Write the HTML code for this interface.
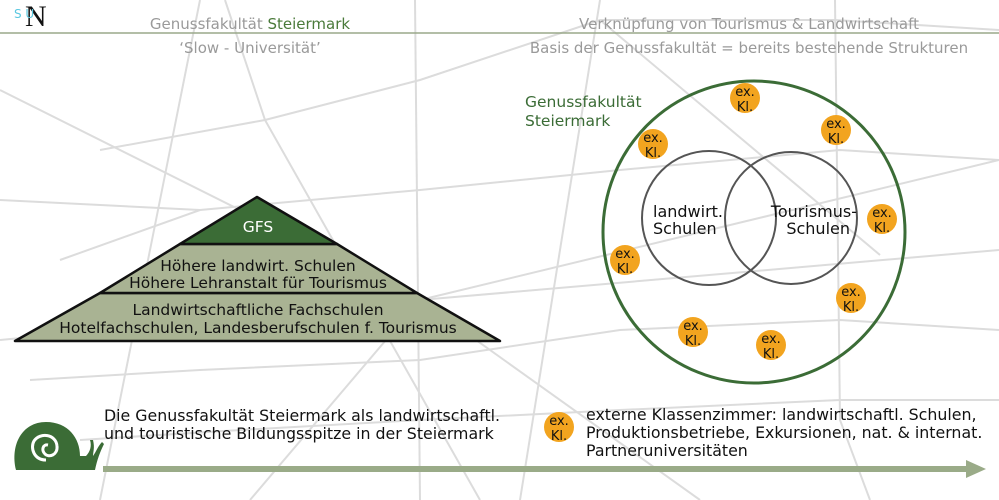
<!DOCTYPE html>
<html><head><meta charset="utf-8"><style>
body{margin:0;width:999px;height:500px;overflow:hidden;background:#fff;font-family:"DejaVu Sans","Liberation Sans",sans-serif}
svg{position:absolute;left:0;top:0}
</style></head><body>
<svg width="999" height="500" viewBox="0 0 999 500">
<g stroke="#dcdcdc" stroke-width="2" fill="none">
<path d="M200 0 L100 500"/><path d="M225 0 L265 120 L480 500"/><path d="M415 0 L420 500"/>
<path d="M600 0 L520 500"/><path d="M835 0 L840 420 L870 500"/><path d="M0 90 L420 300 L999 250"/>
<path d="M0 340 L420 300 L999 160"/><path d="M100 150 L265 120 L420 80 L600 20 L835 20 L999 30"/>
<path d="M60 260 L200 210 L420 190 L620 170 L840 150 L999 160"/>
<path d="M30 380 L200 370 L420 360 L620 330 L840 320 L999 330"/>
<path d="M80 440 L240 430 L420 420 L620 410 L840 400 L999 400"/>
<path d="M420 300 L700 500"/><path d="M420 300 L250 500"/><path d="M0 200 L200 210"/>
<path d="M600 20 L880 255"/>
</g>
<line x1="0" y1="33" x2="999" y2="33" stroke="#9aa88a" stroke-width="1.5"/>
<text x="25" y="26" font-size="30" font-family="Liberation Serif,serif" fill="#111">N</text>
<text x="14" y="18" font-size="12" fill="#5bc8e0">S  U</text>
<g font-size="15" fill="#9a9a9a" text-anchor="middle">
<text x="250" y="29">Genussfakultät <tspan fill="#4a7a3a">Steiermark</tspan></text>
<text x="250" y="53">‘Slow - Universität’</text>
<text x="749" y="29">Verknüpfung von Tourismus &amp; Landwirtschaft</text>
<text x="749" y="53">Basis der Genussfakultät = bereits bestehende Strukturen</text>
</g>
<g stroke="#111" stroke-width="2.5" stroke-linejoin="round">
<polygon points="15,341 500,341 417,293 100,293" fill="#a9b393"/>
<polygon points="100,293 417,293 337,244 180,244" fill="#a9b393"/>
<polygon points="180,244 337,244 257,197" fill="#3b6c36"/>
</g>
<g font-size="15.5" text-anchor="middle" fill="#111">
<text x="258" y="232" fill="#fff">GFS</text>
<text x="258" y="271">Höhere landwirt. Schulen</text>
<text x="258" y="288">Höhere Lehranstalt für Tourismus</text>
<text x="258" y="315">Landwirtschaftliche Fachschulen</text>
<text x="258" y="333">Hotelfachschulen, Landesberufschulen f. Tourismus</text>
</g>
<circle cx="754" cy="232" r="151" fill="none" stroke="#3b6c36" stroke-width="3"/>
<text x="525" y="107" font-size="15.5" fill="#3b6c36">Genussfakultät</text>
<text x="525" y="126" font-size="15.5" fill="#3b6c36">Steiermark</text>
<g fill="none" stroke="#555" stroke-width="2"><circle cx="709" cy="218" r="67"/><circle cx="791" cy="218" r="66"/></g>
<g font-size="16" fill="#111">
<text x="653" y="217">landwirt.</text><text x="653" y="234">Schulen</text>
<text x="857" y="217" text-anchor="end">Tourismus-</text><text x="850" y="234" text-anchor="end">Schulen</text>
</g>
<g font-size="13" fill="#111" text-anchor="middle">
<g transform="translate(745,98)"><circle r="15" fill="#f2a41f"/><text y="-2">ex.</text><text y="13">Kl.</text></g>
<g transform="translate(836,130)"><circle r="15" fill="#f2a41f"/><text y="-2">ex.</text><text y="13">Kl.</text></g>
<g transform="translate(653,144)"><circle r="15" fill="#f2a41f"/><text y="-2">ex.</text><text y="13">Kl.</text></g>
<g transform="translate(882,219)"><circle r="15" fill="#f2a41f"/><text y="-2">ex.</text><text y="13">Kl.</text></g>
<g transform="translate(625,260)"><circle r="15" fill="#f2a41f"/><text y="-2">ex.</text><text y="13">Kl.</text></g>
<g transform="translate(851,298)"><circle r="15" fill="#f2a41f"/><text y="-2">ex.</text><text y="13">Kl.</text></g>
<g transform="translate(693,332)"><circle r="15" fill="#f2a41f"/><text y="-2">ex.</text><text y="13">Kl.</text></g>
<g transform="translate(771,345)"><circle r="15" fill="#f2a41f"/><text y="-2">ex.</text><text y="13">Kl.</text></g>
<g transform="translate(559,427)"><circle r="15" fill="#f2a41f"/><text y="-2">ex.</text><text y="13">Kl.</text></g>
</g>
<g font-size="15.8" fill="#111">
<text x="104" y="421">Die Genussfakultät Steiermark als landwirtschaftl.</text>
<text x="104" y="439">und touristische Bildungsspitze in der Steiermark</text>
<text x="586" y="420">externe Klassenzimmer: landwirtschaftl. Schulen,</text>
<text x="586" y="438">Produktionsbetriebe, Exkursionen, nat. &amp; internat.</text>
<text x="586" y="456">Partneruniversitäten</text>
</g>
<line x1="103" y1="469" x2="970" y2="469" stroke="#9aab88" stroke-width="6"/>
<polygon points="966,460 986,469 966,478" fill="#9aab88"/>
<g>
<path d="M16 470 C10 445 22 422 46 422 C68 422 80 438 80 456 L86 456 C90 452 92 446 90 440 L93 440 C95 448 93 452 93 456 C96 452 98 446 102 442 L104 444 C100 452 97 460 95 470 Z" fill="#3b6c36"/>
<path d="M46 460 C34 460 30 448 34 441 C40 432 56 434 57 446 C58 455 49 458 45 454 C41 450 43 444 48 445" fill="none" stroke="#fff" stroke-width="3"/>
</g>
</svg>
</body></html>
